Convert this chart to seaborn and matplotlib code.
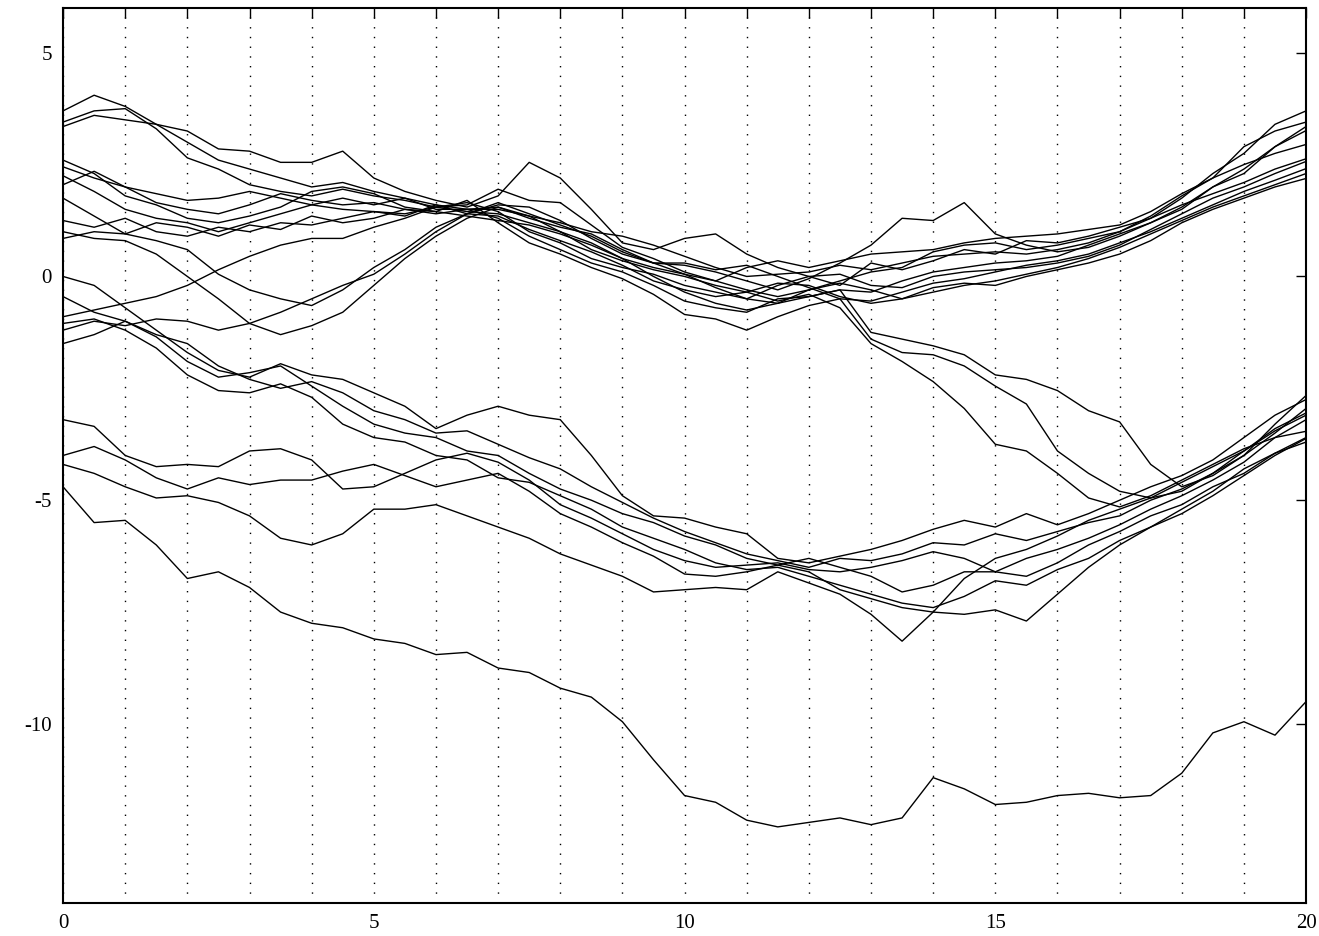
import numpy as np
import pandas as pd
import matplotlib
matplotlib.use("Agg")
import matplotlib.pyplot as plt
import seaborn as sns

# time grid (every 0.5)
t = [i * 0.5 for i in range(41)]

# paths (values at t)
T1 = [3.7, 4.05, 3.8, 3.4, 3.25, 2.85, 2.8, 2.55, 2.55, 2.8, 2.2, 1.9, 1.7, 1.55, 1.8, 2.55, 2.2, 1.5, 0.75, 0.6,
      0.85, 0.95, 0.5, 0.2, 0.0, -0.2, 0.3, 0.15, 0.35, 0.6, 0.5, 0.8, 0.75, 0.9, 1.1, 1.3, 1.75, 2.3, 2.75, 3.4, 3.7]
T2 = [3.45, 3.7, 3.75, 3.3, 2.65, 2.4, 2.05, 1.9, 1.8, 1.95, 1.8, 1.7, 1.55, 1.6, 1.95, 1.7, 1.65, 1.15, 0.65, 0.4,
      0.1, -0.1, -0.3, -0.45, -0.3, -0.1, 0.1, 0.2, 0.55, 0.7, 0.75, 0.6, 0.7, 0.85, 1.0, 1.35, 1.8, 2.2, 2.9, 3.25, 3.45]
T3 = [3.35, 3.6, 3.5, 3.4, 3.0, 2.6, 2.4, 2.2, 2.0, 2.1, 1.9, 1.75, 1.5, 1.5, 1.55, 1.3, 1.1, 0.95, 0.6, 0.3,
      0.25, 0.1, -0.1, -0.3, -0.05, 0.3, 0.7, 1.3, 1.25, 1.65, 0.95, 0.7, 0.55, 0.65, 0.9, 1.2, 1.55, 2.0, 2.3, 2.9, 3.35]
T4 = [2.6, 2.3, 1.8, 1.6, 1.3, 1.2, 1.35, 1.55, 1.9, 2.0, 1.85, 1.55, 1.45, 1.35, 1.25, 1.15, 0.95, 0.7, 0.4, 0.2,
      0.05, -0.25, -0.5, -0.6, -0.45, -0.3, -0.35, -0.1, 0.1, 0.2, 0.3, 0.35, 0.45, 0.7, 0.95, 1.2, 1.5, 2.0, 2.4, 2.9, 3.26]
T5 = [2.45, 2.2, 2.0, 1.65, 1.5, 1.4, 1.6, 1.85, 1.7, 1.6, 1.65, 1.5, 1.4, 1.5, 1.5, 1.35, 1.2, 1.0, 0.9, 0.7,
      0.45, 0.2, 0.0, 0.05, 0.1, 0.25, 0.15, 0.3, 0.45, 0.5, 0.55, 0.5, 0.6, 0.75, 1.0, 1.3, 1.6, 1.85, 2.1, 2.4, 2.63]
T6 = [2.25, 1.9, 1.5, 1.3, 1.2, 1.0, 1.2, 1.4, 1.6, 1.5, 1.45, 1.4, 1.55, 1.65, 1.45, 1.0, 0.75, 0.4, 0.2, 0.05,
      -0.2, -0.35, -0.5, -0.2, 0.0, 0.05, -0.2, -0.25, 0.0, 0.1, 0.15, 0.2, 0.3, 0.45, 0.7, 1.05, 1.4, 1.75, 2.0, 2.3, 2.57]
T7 = [1.75, 1.35, 0.95, 0.8, 0.6, 0.05, -0.3, -0.5, -0.65, -0.3, 0.2, 0.6, 1.1, 1.4, 1.6, 1.55, 1.25, 0.85, 0.5, 0.3,
      0.3, 0.15, 0.25, 0.0, -0.25, -0.5, -0.55, -0.35, -0.15, -0.05, 0.1, 0.25, 0.35, 0.5, 0.75, 1.0, 1.3, 1.6, 1.9, 2.15, 2.41]
T8 = [1.0, 0.85, 0.8, 0.5, 0.0, -0.5, -1.05, -1.3, -1.1, -0.8, -0.2, 0.4, 0.9, 1.3, 1.55, 1.35, 1.0, 0.75, 0.4, 0.0,
      -0.35, -0.6, -0.75, -0.6, -0.3, -0.15, -0.3, -0.5, -0.35, -0.2, -0.1, 0.05, 0.2, 0.4, 0.65, 0.95, 1.25, 1.55, 1.8, 2.05, 2.3]
D1 = [1.25, 1.1, 1.3, 1.0, 0.9, 1.1, 1.0, 1.2, 1.15, 1.3, 1.45, 1.35, 1.6, 1.5, 1.3, 0.9, 0.6, 0.3, 0.1, -0.2,
      -0.55, -0.7, -0.8, -0.5, -0.45, -0.3, -1.25, -1.4, -1.55, -1.75, -2.2, -2.3, -2.55, -3.0, -3.25, -4.2, -4.7, -4.45, -4.0, -3.3, -2.66]
D2 = [0.85, 1.0, 0.95, 1.2, 1.1, 0.9, 1.15, 1.05, 1.35, 1.2, 1.3, 1.5, 1.45, 1.7, 1.2, 0.75, 0.5, 0.2, -0.05, -0.4,
      -0.85, -0.95, -1.2, -0.9, -0.65, -0.5, -1.4, -1.7, -1.75, -2.0, -2.45, -2.85, -3.9, -4.4, -4.8, -4.95, -4.8, -4.4, -3.9, -3.45, -3.1]
D3 = [2.05, 2.35, 2.0, 1.85, 1.7, 1.75, 1.9, 1.75, 1.6, 1.75, 1.6, 1.75, 1.6, 1.4, 1.35, 1.05, 0.8, 0.55, 0.25, -0.1,
      -0.3, -0.45, -0.35, -0.55, -0.4, -0.7, -1.5, -1.9, -2.35, -2.95, -3.75, -3.9, -4.4, -4.95, -5.15, -4.9, -4.55, -4.2, -3.85, -3.6, -3.46]
R1 = [-0.9, -0.75, -0.6, -0.45, -0.2, 0.15, 0.45, 0.7, 0.85, 0.85, 1.1, 1.3, 1.55, 1.45, 1.4, 1.2, 1.0, 0.6, 0.35, 0.15,
      0.0, -0.2, -0.35, -0.15, -0.2, -0.45, -0.6, -0.5, -0.25, -0.15, -0.2, 0.0, 0.15, 0.3, 0.5, 0.8, 1.2, 1.5, 1.75, 2.0, 2.19]
R2 = [-1.2, -1.0, -1.1, -0.95, -1.0, -1.2, -1.05, -0.8, -0.5, -0.2, 0.05, 0.5, 1.0, 1.4, 1.65, 1.4, 1.15, 0.9, 0.55, 0.3,
      0.05, -0.1, 0.2, 0.35, 0.2, 0.35, 0.5, 0.55, 0.6, 0.75, 0.85, 0.9, 0.95, 1.05, 1.15, 1.45, 1.85, 2.2, 2.5, 2.75, 2.95]
B1 = [0.0, -0.2, -0.7, -1.2, -1.7, -2.1, -2.25, -1.95, -2.2, -2.3, -2.6, -2.9, -3.4, -3.1, -2.9, -3.1, -3.2, -4.0, -4.9, -5.35,
      -5.4, -5.6, -5.75, -6.3, -6.4, -6.25, -6.1, -5.9, -5.65, -5.45, -5.6, -5.3, -5.55, -5.3, -5.0, -4.7, -4.45, -4.1, -3.6, -3.1, -2.75]
B2 = [-0.45, -0.8, -1.0, -1.3, -1.5, -2.0, -2.3, -2.5, -2.35, -2.6, -3.0, -3.2, -3.5, -3.45, -3.75, -4.05, -4.3, -4.7, -5.05, -5.4,
      -5.7, -5.95, -6.2, -6.35, -6.5, -6.3, -6.35, -6.2, -5.95, -6.0, -5.75, -5.9, -5.7, -5.5, -5.35, -5.0, -4.75, -4.4, -4.0, -3.5, -2.95]
B3 = [-1.05, -0.95, -1.2, -1.6, -2.2, -2.55, -2.6, -2.4, -2.7, -3.3, -3.6, -3.7, -4.0, -4.1, -4.5, -4.6, -4.9, -5.2, -5.6, -5.85,
      -6.1, -6.4, -6.55, -6.5, -6.7, -6.9, -7.1, -7.3, -7.4, -7.15, -6.8, -6.9, -6.55, -6.3, -5.9, -5.6, -5.2, -4.8, -4.3, -3.95, -3.6]
B4 = [-1.5, -1.3, -1.0, -1.35, -1.9, -2.25, -2.15, -2.0, -2.45, -2.9, -3.3, -3.5, -3.6, -3.9, -4.0, -4.4, -4.75, -5.0, -5.3, -5.5,
      -5.8, -6.0, -6.3, -6.45, -6.3, -6.5, -6.7, -7.05, -6.9, -6.6, -6.6, -6.3, -6.1, -5.85, -5.55, -5.2, -4.9, -4.55, -4.15, -3.6, -3.2]
C1 = [-3.2, -3.35, -4.0, -4.25, -4.2, -4.25, -3.9, -3.85, -4.1, -4.75, -4.7, -4.4, -4.1, -3.95, -4.15, -4.55, -5.1, -5.4, -5.75, -6.1,
      -6.35, -6.5, -6.45, -6.4, -6.55, -6.6, -6.5, -6.35, -6.15, -6.3, -6.6, -6.7, -6.4, -6.0, -5.7, -5.35, -5.1, -4.7, -4.4, -3.95, -3.7]
C2 = [-4.0, -3.8, -4.1, -4.5, -4.75, -4.5, -4.65, -4.55, -4.55, -4.35, -4.2, -4.45, -4.7, -4.55, -4.4, -4.8, -5.3, -5.6, -5.95, -6.25,
      -6.65, -6.7, -6.6, -6.45, -6.6, -7.0, -7.2, -7.4, -7.5, -7.55, -7.45, -7.7, -7.1, -6.5, -6.0, -5.6, -5.3, -4.9, -4.45, -4.0, -3.62]
C3 = [-4.2, -4.4, -4.7, -4.95, -4.9, -5.05, -5.35, -5.85, -6.0, -5.75, -5.2, -5.2, -5.1, -5.35, -5.6, -5.85, -6.2, -6.45, -6.7, -7.05,
      -7.0, -6.95, -7.0, -6.6, -6.85, -7.1, -7.55, -8.15, -7.5, -6.75, -6.3, -6.1, -5.8, -5.45, -5.2, -4.95, -4.6, -4.25, -3.9, -3.4, -3.05]
L1 = [-4.7, -5.5, -5.45, -6.0, -6.75, -6.6, -6.95, -7.5, -7.75, -7.85, -8.1, -8.2, -8.45, -8.4, -8.75, -8.85, -9.2, -9.4, -9.95, -10.8,
      -11.6, -11.75, -12.15, -12.3, -12.2, -12.1, -12.25, -12.1, -11.2, -11.45, -11.8, -11.75, -11.6, -11.55, -11.65, -11.6, -11.1, -10.2, -9.95, -10.25, -9.5]

paths = {"T1": T1, "T2": T2, "T3": T3, "T4": T4, "T5": T5, "T6": T6, "T7": T7, "T8": T8,
         "D1": D1, "D2": D2, "D3": D3, "R1": R1, "R2": R2,
         "B1": B1, "B2": B2, "B3": B3, "B4": B4, "C1": C1, "C2": C2, "C3": C3, "L1": L1}

x_ticks = [0, 5, 10, 15, 20]
y_ticks = [-10, -5, 0, 5]

frames = [pd.DataFrame({"t": t, "v": v, "path": name}) for name, v in paths.items()]
df = pd.concat(frames, ignore_index=True)

sns.set_style("white")
plt.rcParams["font.family"] = ["Liberation Serif", "DejaVu Serif"]
plt.rcParams["axes.unicode_minus"] = False

fig = plt.figure(figsize=(13.19, 9.36), dpi=100)
ax = fig.add_axes([0.0478, 0.0353, 0.9424, 0.9562])

sns.lineplot(data=df, x="t", y="v", units="path", estimator=None, color="black",
             linewidth=1.0, ax=ax, legend=False, sort=False)

ax.set_xlim(0, 20)
ax.set_ylim(-14, 6)
ax.set_xticks(x_ticks)
ax.set_xticks(range(0, 21), minor=True)
ax.set_yticks(y_ticks)
ax.set_xticklabels([str(v) for v in x_ticks])
ax.set_yticklabels([str(v) for v in y_ticks])
ax.grid(which="both", axis="x", color="black", linestyle=(0, (1, 6)), linewidth=1.0)
ax.grid(False, axis="y")
ax.tick_params(axis="both", which="both", direction="in", top=True, right=True,
               length=7, width=1.0, labelsize=15, colors="black", pad=8)
for s in ax.spines.values():
    s.set_color("black")
    s.set_linewidth(1.5)
ax.set_xlabel("")
ax.set_ylabel("")

fig.savefig("out.png", dpi=100)
